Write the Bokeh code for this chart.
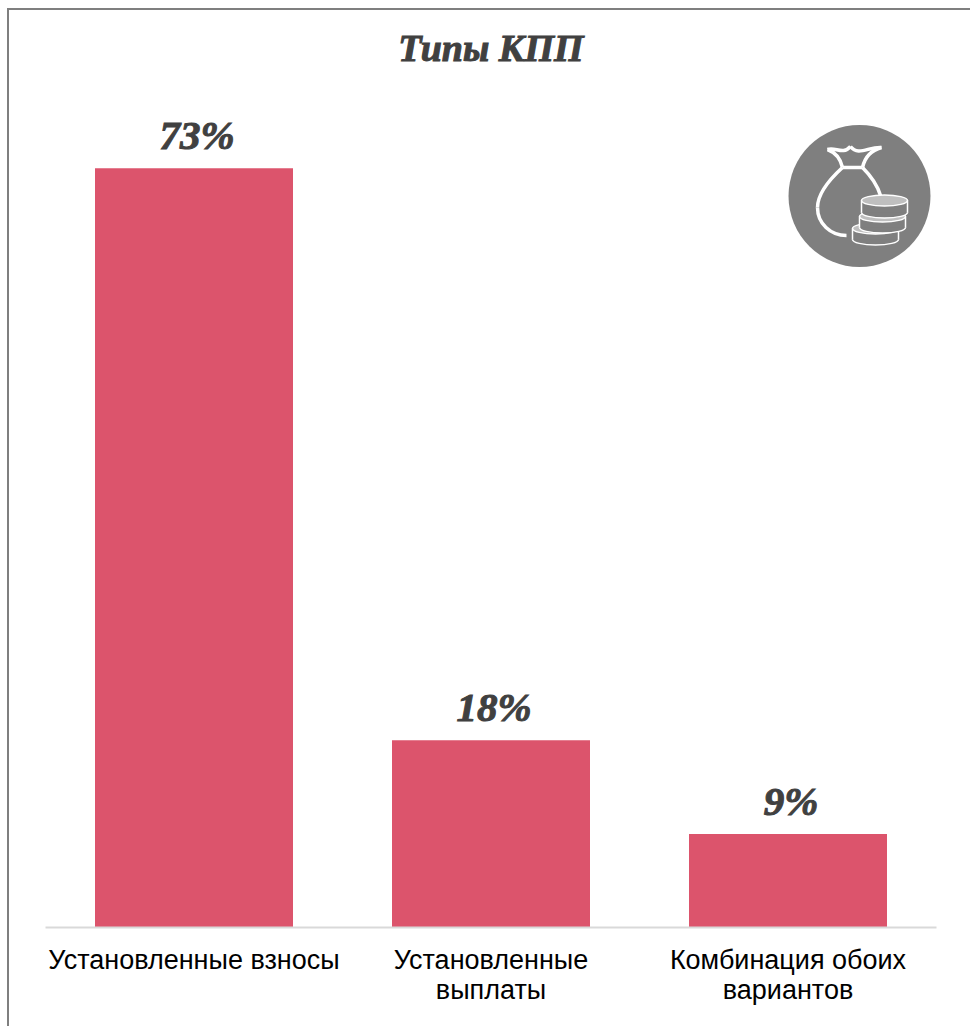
from bokeh.plotting import figure
from bokeh.embed import file_html
from bokeh.resources import INLINE
from bokeh.core.properties import value
from bokeh.models import Range1d, InlineStyleSheet, ColumnDataSource, Title, FixedTicker

categories = ["Установленные взносы", "Установленные\nвыплаты", "Комбинация обоих\nвариантов"]
shares = [73, 18, 9]
share_labels = ["73%", "18%", "9%"]
title_text = "Типы КПП"

BAR = "#DC546C"
DARK = "#404040"
SERIF = "Liberation Serif"

W, H = 970, 1026
LEFT, RIGHT, TOP, BOTTOM = 45, 34, 62, 99   # margins around the plot area

positions = [i + 0.5 for i in range(len(categories))]

p = figure(width=W, height=H, output_backend="svg", toolbar_location=None,
           x_range=Range1d(0, len(categories)),
           y_range=Range1d(0, (H - TOP - BOTTOM) / 10.4),
           min_border_left=LEFT, min_border_right=RIGHT, min_border_top=TOP, min_border_bottom=BOTTOM,
           outline_line_color=None, border_fill_color="white", background_fill_color="white")
p.title = Title(text=title_text, align="center", vertical_align="bottom", text_font=SERIF, text_font_style="bold italic",
                text_font_size="38px", text_color=DARK, offset=12, standoff=-12)
p.title.text_outline_color = DARK

# Frame: only the left and top edges fall inside the page
p.stylesheets = [InlineStyleSheet(css=":host::after {content:''; position:absolute; left:7px; top:8px; width:963px; height:1018px; "
                                      "box-sizing:border-box; border-left:2px solid #7F7F7F; border-top:2px solid #7F7F7F; pointer-events:none;}")]

p.grid.visible = False
p.yaxis.visible = False
ax = p.xaxis[0]
ax.ticker = FixedTicker(ticks=positions)
ax.major_label_overrides = {pos: c for pos, c in zip(positions, categories)}
ax.axis_line_color = "#D9D9D9"
ax.axis_line_width = 2
ax.major_tick_line_color = None
ax.minor_tick_line_color = None
ax.major_label_text_font = "Liberation Sans"
ax.major_label_text_font_size = "27px"
ax.major_label_text_line_height = 1.0
ax.major_label_text_color = "black"
ax.major_label_standoff = 11
ax.major_label_orientation = "horizontal"

src = ColumnDataSource(dict(pos=positions, val=shares, lab=share_labels))
p.vbar(x="pos", top="val", width=2 / 3, bottom=0, source=src, fill_color=BAR, line_color=None)
p.text(x="pos", y="val", text="lab", source=src, text_align="center", text_baseline="bottom",
       x_offset=3, y_offset=-10, text_font=value(SERIF), text_font_style="bold italic",
       text_font_size="41px", text_color=DARK, text_outline_color=DARK)

# Icon drawn on a pixel-based range (page coordinates)
p.extra_x_ranges["px"] = Range1d(LEFT, W - RIGHT)
p.extra_y_ranges["px"] = Range1d(H - BOTTOM, TOP)
kw = dict(x_range_name="px", y_range_name="px")
p.ellipse(x=[859], y=[195.5], width=[142], height=[142], fill_color="#7F7F7F", line_color=None, **kw)
WHITE = "#FFFFFF"
BAG = dict(line_color=WHITE, line_width=3.5, **kw)
# bag body
p.bezier(x0=[842], y0=[167], x1=[817], y1=[207], cx0=[830], cy0=[178], cx1=[817], cy1=[193], **BAG)
p.bezier(x0=[817], y0=[207], x1=[846], y1=[235], cx0=[817], cy0=[223], cx1=[830], cy1=[235], **BAG)
p.bezier(x0=[862], y0=[167], x1=[880], y1=[195], cx0=[870], cy0=[175], cx1=[877], cy1=[185], **BAG)
p.line(x=[842, 862], y=[167, 167], **BAG)
# bag neck and ruffle
p.bezier(x0=[842], y0=[167], x1=[827], y1=[149], cx0=[840], cy0=[158], cx1=[835], cy1=[152], **BAG)
p.bezier(x0=[862], y0=[167], x1=[881], y1=[147], cx0=[864], cy0=[158], cx1=[870], cy1=[150], **BAG)
p.bezier(x0=[827], y0=[149], x1=[850], y1=[146], cx0=[835], cy0=[146], cx1=[842], cy1=[155], **BAG)
p.bezier(x0=[850], y0=[146], x1=[881], y1=[147], cx0=[858], cy0=[156], cx1=[868], cy1=[146], **BAG)

# coins, back to front
for cx, cy, rx, ry, depth in [(875, 228, 23, 5.5, 11), (882, 216, 23, 5.5, 11), (884, 200, 23, 5.5, 12)]:
    p.ellipse(x=[cx], y=[cy + depth], width=[2 * rx], height=[2 * ry], fill_color="#7F7F7F", line_color=WHITE, line_width=1.5, **kw)
    p.quad(left=[cx - rx], right=[cx + rx], top=[cy], bottom=[cy + depth], fill_color="#7F7F7F", line_color=None, **kw)
    p.segment(x0=[cx - rx, cx + rx], y0=[cy, cy], x1=[cx - rx, cx + rx], y1=[cy + depth, cy + depth], line_color=WHITE, line_width=1.5, **kw)
    p.ellipse(x=[cx], y=[cy], width=[2 * rx], height=[2 * ry], fill_color="#BFBFBF", line_color=WHITE, line_width=1.5, **kw)

open("out.html", "w").write(file_html(p, INLINE))
